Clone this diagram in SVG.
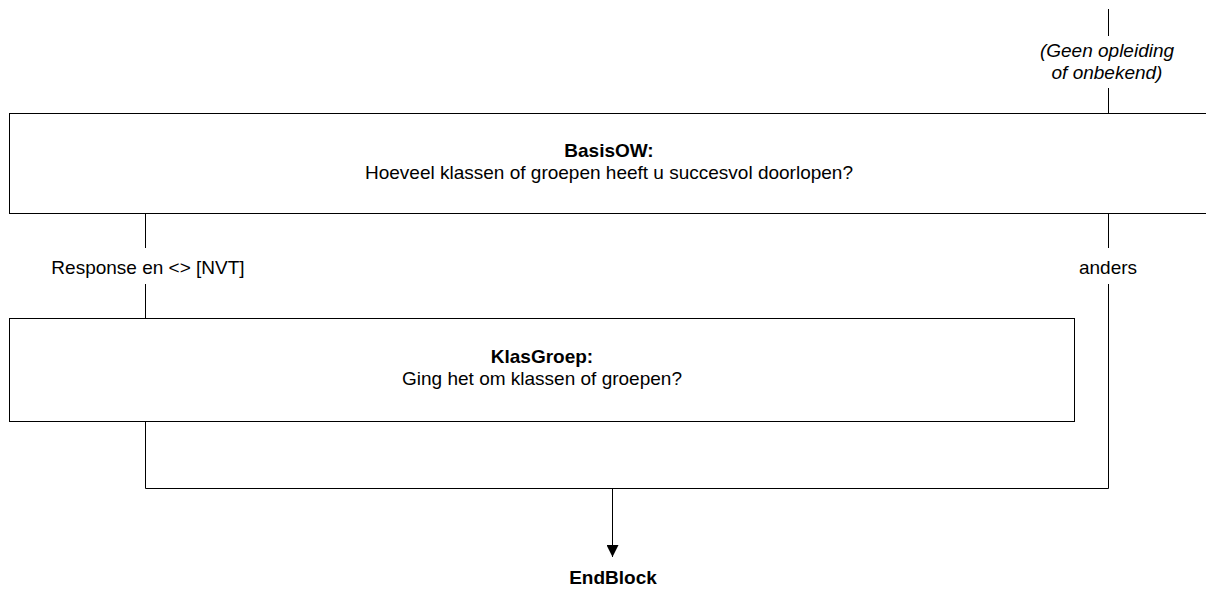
<svg xmlns="http://www.w3.org/2000/svg" width="1206" height="592" viewBox="0 0 1206 592">
  <style>
    .box { fill: #ffffff; stroke: #000000; stroke-width: 1; }
    .line { fill: none; stroke: #000000; stroke-width: 1; }
    text { font-family: "Liberation Sans", Arial, sans-serif; font-size: 19px; fill: #000000; text-anchor: middle; }
    .b { font-weight: bold; }
    .i { font-style: italic; }
  </style>
  <defs>
    <marker id="arrow" markerUnits="userSpaceOnUse" markerWidth="12" markerHeight="12" refX="12" refY="6" orient="auto">
      <path d="M0,0 L12,6 L0,12 Z" fill="#000000"/>
    </marker>
  </defs>
  <g id="connectors">
    <line class="line" x1="1108.5" y1="9" x2="1108.5" y2="36"/>
    <line class="line" x1="1108.5" y1="88" x2="1108.5" y2="113"/>
    <text class="i" x="1107" y="57">(Geen opleiding</text>
    <text class="i" x="1107" y="79">of onbekend)</text>
    <line class="line" x1="145.5" y1="214" x2="145.5" y2="248"/>
    <line class="line" x1="145.5" y1="284" x2="145.5" y2="318"/>
    <text x="148" y="274">Response en &lt;&gt; [NVT]</text>
    <line class="line" x1="1108.5" y1="214" x2="1108.5" y2="248"/>
    <text x="1108" y="274">anders</text>
    <polyline class="line" points="1108.5,284 1108.5,488.5 145.5,488.5 145.5,421"/>
    <line class="line" x1="612.5" y1="488.5" x2="612.5" y2="557" marker-end="url(#arrow)"/>
  </g>
  <g id="BasisOW">
    <rect class="box" x="9.5" y="113.5" width="1200" height="100"/>
    <text class="b" x="609" y="157">BasisOW:</text>
    <text x="609" y="179">Hoeveel klassen of groepen heeft u succesvol doorlopen?</text>
  </g>
  <g id="KlasGroep">
    <rect class="box" x="9.5" y="318.5" width="1065" height="103"/>
    <text class="b" x="542" y="363">KlasGroep:</text>
    <text x="542" y="385">Ging het om klassen of groepen?</text>
  </g>
  <g id="EndBlock">
    <text class="b" x="613" y="584">EndBlock</text>
  </g>
</svg>
